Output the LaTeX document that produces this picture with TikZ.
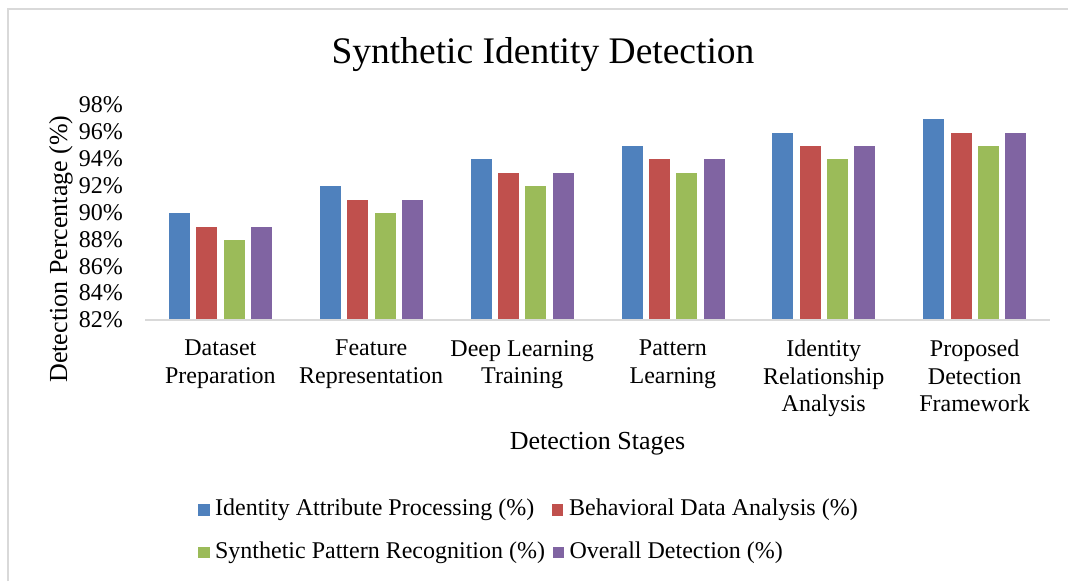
\documentclass[tikz,border=0pt]{standalone}
\usepackage{fontspec}
\setmainfont{Liberation Serif}
\usetikzlibrary{positioning}
\definecolor{BarBlue}{RGB}{79,129,189}
\definecolor{BarRed}{RGB}{192,80,77}
\definecolor{BarGreen}{RGB}{155,187,89}
\definecolor{BarPurple}{RGB}{128,100,162}
\definecolor{FrameGray}{RGB}{217,217,217}
\tikzset{
  bar/.style={draw=white,line width=0.6pt},
  axisline/.style={draw=FrameGray,line width=1.5pt},
  ticklabel/.style={anchor=east,inner sep=0pt,font=\fontsize{24}{27.5}\selectfont},
  catlabel/.style={anchor=north,inner sep=0pt,align=center,
    font=\fontsize{24}{27.5}\selectfont},
  axistitle/.style={anchor=base,inner sep=0pt,font=\fontsize{26}{30}\selectfont},
  keybox/.style={minimum size=11.5pt,inner sep=0pt},
  keytext/.style={anchor=west,inner sep=0pt,font=\fontsize{24}{27.5}\selectfont}
}

\begin{document}
\begin{tikzpicture}[x=1pt,y=-1pt]
  \useasboundingbox (0,0) rectangle (1068,581);
  \draw[axisline] (8,581) -- (8,9) -- (1068,9);
  \node[anchor=base,inner sep=0pt,font=\fontsize{37.5}{42}\selectfont] (title)
    at (543,63) {Synthetic Identity Detection};
  % value axis
  \foreach \v [count=\k] in {82,84,...,98}
    \node[ticklabel] (tick\k) at (123,{320-(\v-82)*13.4375}) {\v\%};
  % bars per stage
  \foreach \va/\vb/\vc/\vd [count=\i from 0] in
    {90/89/88/89,92/91/90/91,94/93/92/93,95/94/93/94,96/95/94/95,97/96/95/96}{
    \pgfmathsetmacro{\cx}{145+150.83*(\i+0.5)}
    \foreach \v/\c [count=\j from 0] in
      {\va/BarBlue,\vb/BarRed,\vc/BarGreen,\vd/BarPurple}
      \draw[bar,fill=\c] ({\cx+(\j-1.5)*27.3-11},320) rectangle
        ({\cx+(\j-1.5)*27.3+11},{320-(\v-82)*13.4375});
  }
  \coordinate (axl) at (145,320);
  \coordinate (axr) at (1050,320);
  \draw[axisline] (axl) -- (axr);
  \node[catlabel] (cat1) at (220.4,340) {Dataset\\Preparation};
  \node[catlabel] (cat2) at (371.2,340) {Feature\\Representation};
  \node[catlabel] (cat3) at (522.1,340) {Deep Learning\\Training};
  \node[catlabel] (cat4) at (672.9,340) {Pattern\\Learning};
  \node[catlabel] (cat5) at (823.7,340) {Identity\\Relationship\\Analysis};
  \node[catlabel] (cat6) at (974.6,340) {Proposed\\Detection\\Framework};
  \node[axistitle] (xtitle) at (597.5,449) {Detection Stages};
  \node[axistitle,rotate=90] (ytitle) at (67,249) {Detection Percentage (\%)};
  % legend
  \node[keybox,fill=BarBlue] (keyA) at (204,510) {};
  \node[keytext,right=5pt of keyA] (labA) {Identity Attribute Processing (\%)};
  \node[keybox,fill=BarRed] (keyB) at (557.5,510) {};
  \node[keytext,right=5.5pt of keyB] (labB) {Behavioral Data Analysis (\%)};
  \node[keybox,fill=BarGreen] (keyC) at (204,552.5) {};
  \node[keytext,right=5pt of keyC] (labC) {Synthetic Pattern Recognition (\%)};
  \node[keybox,fill=BarPurple] (keyD) at (558.5,552.5) {};
  \node[keytext,right=5pt of keyD] (labD) {Overall Detection (\%)};
\end{tikzpicture}
\end{document}
